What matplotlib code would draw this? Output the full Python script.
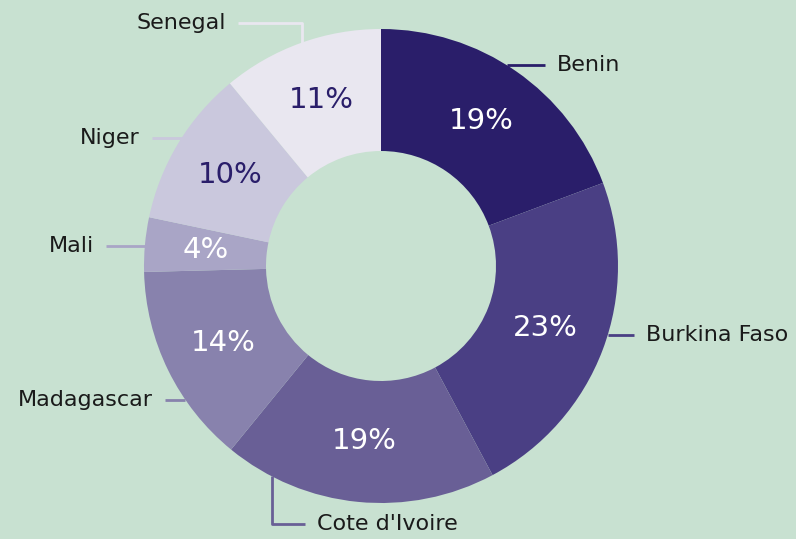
import numpy as np
import matplotlib
matplotlib.use("Agg")
import matplotlib.pyplot as plt

# data
countries = ["Benin", "Burkina Faso", "Cote d'Ivoire", "Madagascar", "Mali", "Niger", "Senegal"]
shares = [19.3, 22.9, 18.7, 13.7, 3.7, 10.7, 11.0]
pct_labels = ["19%", "23%", "19%", "14%", "4%", "10%", "11%"]
colors = ["#2a1e6a", "#4a3f84", "#695f96", "#8882ad", "#a9a5c6", "#cac8dd", "#e9e7f0"]
pct_colors = ["white", "white", "white", "white", "white", "#2a1e6a", "#2a1e6a"]

# label layout: anchor angle (deg clockwise from top), leader end x, elbow y (None = straight)
anchor_angle = [32, 107, 207.5, 235.6, 274.8, 302.7, 340.5]
line_end_x = [545, 634, 305, 165, 106, 152, 238]
elbow_y = [None, None, 15, None, None, None, 516]

bg = "#c8e1d1"
plt.rcParams["font.family"] = ["DejaVu Sans"]

fig = plt.figure(figsize=(7.96, 5.39), dpi=100, facecolor=bg)
ax = fig.add_axes([0, 0, 1, 1])
ax.set_facecolor(bg)

cx, cy = 381, 273
R, r_in = 237, 115

wedges, texts = ax.pie(
    shares, colors=colors, startangle=90, counterclock=False,
    radius=R, center=(cx, cy),
    wedgeprops=dict(width=R - r_in, linewidth=0),
)

# percentage labels in the middle of the ring
mid_r = (R + r_in) / 2
for w, lab, c in zip(wedges, pct_labels, pct_colors):
    a = np.radians((w.theta1 + w.theta2) / 2)
    ax.text(cx + mid_r * np.cos(a), cy + mid_r * np.sin(a), lab,
            fontsize=21, color=c, ha="center", va="center")

for i, name in enumerate(countries):
    a = np.radians(anchor_angle[i])
    x0 = cx + R * np.sin(a)
    y0 = cy + R * np.cos(a)
    if elbow_y[i] is None:
        xs, ys = [x0, line_end_x[i]], [y0, y0]
        ty = y0
    else:
        xs, ys = [x0, x0, line_end_x[i]], [y0, elbow_y[i], elbow_y[i]]
        ty = elbow_y[i]
    ax.plot(xs, ys, color=colors[i], lw=2, solid_capstyle="butt")
    right = line_end_x[i] > x0
    tx = line_end_x[i] + (12 if right else -12)
    ax.text(tx, ty, name, fontsize=16, color="#1a1a1a",
            ha="left" if right else "right", va="center")

ax.set_xlim(0, 796)
ax.set_ylim(0, 539)
ax.set_aspect("equal")
ax.axis("off")

fig.savefig("out.png", dpi=100, facecolor=bg)
